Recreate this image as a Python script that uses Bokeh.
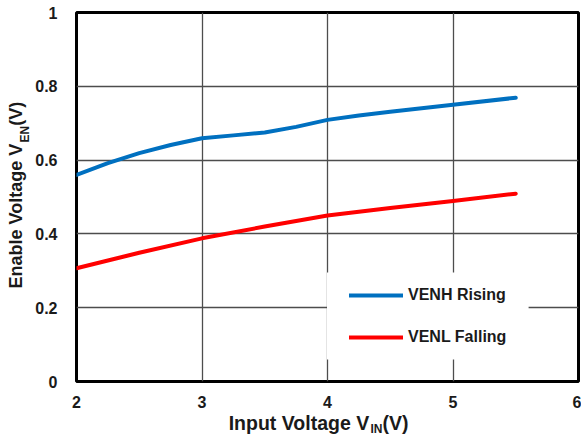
import math
from bokeh.plotting import figure
from bokeh.layouts import row, column
from bokeh.models import Range1d, Legend, LegendItem, FixedTicker
from bokeh.core.properties import value
from bokeh.embed import file_html
from bokeh.resources import INLINE

# ---- data ----
vin_rise = [2.0, 2.25, 2.5, 2.75, 3.0, 3.25, 3.5, 3.75, 4.0, 4.25, 4.5, 5.0, 5.5]
venh_rising = [0.560, 0.592, 0.619, 0.641, 0.659, 0.667, 0.675, 0.690, 0.709, 0.721, 0.731, 0.750, 0.769]
vin_fall = [2.0, 2.5, 3.0, 3.5, 4.0, 4.5, 5.0, 5.5]
venl_falling = [0.307, 0.349, 0.388, 0.420, 0.450, 0.470, 0.489, 0.509]
series_names = ["VENH Rising", "VENL Falling"]
x_ticks = [2, 3, 4, 5, 6]
x_tick_labels = ["2", "3", "4", "5", "6"]
y_ticks = [0, 0.2, 0.4, 0.6, 0.8, 1]
y_tick_labels = ["0", "0.2", "0.4", "0.6", "0.8", "1"]
x_title_parts = ["Input Voltage V", "IN", "(V)"]
y_title_parts = ["Enable Voltage V", "EN", "(V)"]

# ---- layout (page pixels) ----
PW, PH = 581, 435          # whole page area
YW = 32                    # strip for the y-axis title
XH = 25                    # strip for the x-axis title
MW, MH = PW - YW, PH - XH  # main plot size
FL, FT, FW, FH = 75, 12, 503, 369   # frame position on the page
X0, X1, Y0, Y1 = 2.0, 6.0, 0.0, 1.0
FONT = "Liberation Sans"
TXT = "#1a1a1a"
MID = 0.3465               # baseline -> middle offset (em) for Liberation Sans

p = figure(width=MW, height=MH, x_range=Range1d(X0, X1), y_range=Range1d(Y0, Y1),
           output_backend="svg", toolbar_location=None,
           min_border_left=FL - YW, min_border_right=MW - (FL - YW) - FW,
           min_border_top=FT, min_border_bottom=MH - FT - FH)
p.background_fill_color = "white"
p.border_fill_color = "white"
p.outline_line_color = "black"
p.outline_line_width = 3

for ax, ticks, labels in ((p.xaxis, x_ticks, x_tick_labels), (p.yaxis, y_ticks, y_tick_labels)):
    ax.ticker = FixedTicker(ticks=ticks)
    ax.major_label_overrides = {t: l for t, l in zip(ticks, labels)}
    ax.axis_line_color = None
    ax.major_tick_line_color = None
    ax.minor_tick_line_color = None
    ax.major_label_text_font = FONT
    ax.major_label_text_font_style = "bold"
    ax.major_label_text_font_size = "16px"
    ax.major_label_text_color = TXT
p.xaxis.major_label_standoff = 8
p.yaxis.major_label_standoff = 13

p.grid.grid_line_color = "#4d4d4d"
p.grid.grid_line_width = 1.3

# helpers converting page pixel positions to data units of the main plot
def dx(px):
    return X0 + (px - FL) / FW * (X1 - X0)

def dy(py):
    return Y0 + (FT + FH - py) / FH * (Y1 - Y0)

# white backdrop of the legend box (hides the grid lines behind it)
p.quad(left=[dx(326.0)], right=[dx(528.0)], bottom=[dy(359.0)], top=[dy(272.0)],
       fill_color="white", line_color=None)

r1 = p.line(vin_rise, venh_rising, line_color="#0070C0", line_width=4,
            line_join="round", line_cap="round")
r2 = p.line(vin_fall, venl_falling, line_color="#FF0000", line_width=4,
            line_join="round", line_cap="round")

legend = Legend(items=[LegendItem(label=series_names[0], renderers=[r1]),
                       LegendItem(label=series_names[1], renderers=[r2])],
                location=(348 - FL, 34), padding=0, spacing=22,
                glyph_width=54, glyph_height=20, label_height=20, label_standoff=5,
                label_text_font=FONT, label_text_font_style="bold",
                label_text_font_size="16px", label_text_color=TXT,
                background_fill_alpha=0.0, border_line_color=None)
p.add_layout(legend)


def text_strip(w, h, xr, yr, bl=0, br=0):
    f = figure(width=w, height=h, x_range=Range1d(*xr), y_range=Range1d(*yr),
               output_backend="svg", toolbar_location=None,
               x_axis_type=None, y_axis_type=None,
               min_border=0, min_border_left=bl, min_border_right=br,
               min_border_top=0, min_border_bottom=0)
    f.outline_line_color = None
    f.background_fill_color = "white"
    f.border_fill_color = "white"
    return f

def put(f, txt, x, y, size, angle=0.0):
    f.text(x=[x], y=[y], text=[txt], angle=angle,
           text_font=value(FONT), text_font_style="bold",
           text_font_size=value(f"{size}px"), text_color=TXT,
           text_align="left", text_baseline="middle")

# x-axis title strip: frame aligned with the main frame; data x = page x,
# data y = PH - page y
xf = text_strip(MW, XH, (FL, FL + FW), (0, XH), bl=FL - YW, br=MW - (FL - YW) - FW)
xs = 227.5
main_fs, sub_fs = 19.5, 12
put(xf, x_title_parts[0], xs, PH - (429.0 - MID * main_fs), main_fs)
put(xf, x_title_parts[1], xs + 142.0, PH - (433.0 - MID * sub_fs), sub_fs)
put(xf, x_title_parts[2], xs + 154.0, PH - (429.0 - MID * main_fs), main_fs)

# y-axis title strip: data x = page x, data y = PH - page y (text reads upward)
yf = text_strip(YW, PH, (0, YW), (0, PH))
ymain_fs = 18
ys = PH - 288.0
put(yf, y_title_parts[0], 21.7 - MID * ymain_fs, ys, ymain_fs, math.pi / 2)
put(yf, y_title_parts[1], 28.2 - MID * sub_fs, ys + 146.0, sub_fs, math.pi / 2)
put(yf, y_title_parts[2], 21.7 - MID * ymain_fs, ys + 162.7, ymain_fs, math.pi / 2)

layout = row(yf, column(p, xf, spacing=0), spacing=0)
open("out.html", "w").write(file_html(layout, INLINE))
